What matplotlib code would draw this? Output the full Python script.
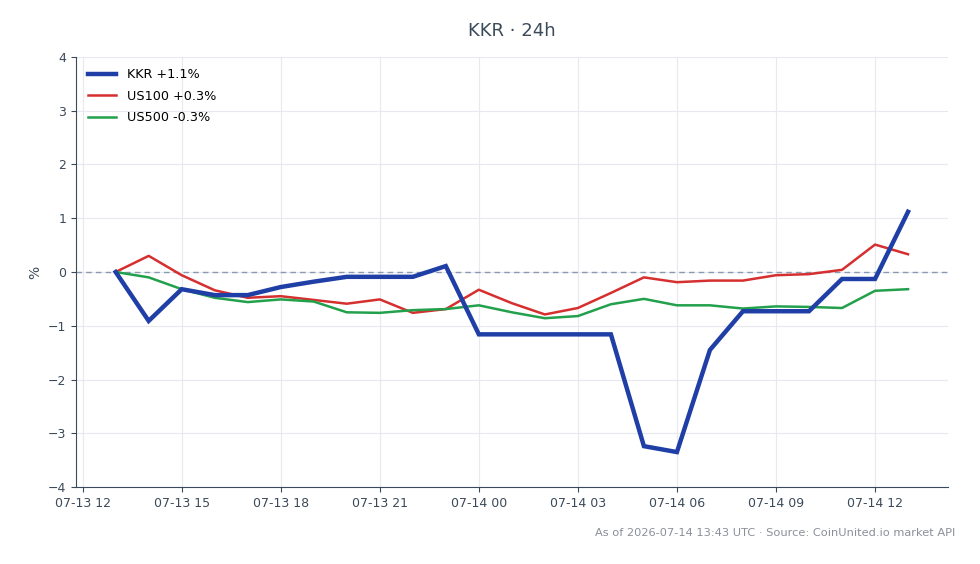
import matplotlib
matplotlib.use("Agg")
import matplotlib.pyplot as plt
import matplotlib.dates as mdates
import pandas as pd

times = pd.date_range("2026-07-13 13:00", "2026-07-14 13:00", freq="h")
kkr = [0.0, -0.91, -0.32, -0.43, -0.43, -0.28, -0.18, -0.09, -0.09, -0.09, 0.11,
       -1.16, -1.16, -1.16, -1.16, -1.16, -3.24, -3.35, -1.45, -0.73, -0.73, -0.73,
       -0.13, -0.13, 1.12]
us100 = [0.0, 0.30, -0.06, -0.34, -0.48, -0.45, -0.52, -0.59, -0.51, -0.76, -0.69,
         -0.33, -0.58, -0.79, -0.67, -0.39, -0.10, -0.19, -0.16, -0.16, -0.06, -0.04,
         0.04, 0.51, 0.33]
us500 = [0.0, -0.10, -0.32, -0.48, -0.56, -0.51, -0.55, -0.75, -0.76, -0.71, -0.69,
         -0.62, -0.75, -0.86, -0.82, -0.60, -0.50, -0.62, -0.62, -0.68, -0.64, -0.65,
         -0.67, -0.35, -0.32]
labels = ["KKR +1.1%", "US100 +0.3%", "US500 -0.3%"]
title = "KKR · 24h"
footer = "As of 2026-07-14 13:43 UTC · Source: CoinUnited.io market API"

txt = "#3b4a5a"
fig = plt.figure(figsize=(9.8, 5.64), dpi=100)
ax = fig.add_axes([0.0776, 0.1365, 0.8894, 0.7625])
ax.plot(times, kkr, color="#1f3fa6", lw=3.2, label=labels[0], zorder=4, solid_joinstyle="miter")
ax.plot(times, us100, color="#d62f2f", lw=1.8, label=labels[1], zorder=3)
ax.plot(times, us500, color="#22a04b", lw=1.8, label=labels[2], zorder=3)
ax.axhline(0, color="#8a99b0", lw=1, ls=(0, (4, 3)), zorder=2)

ax.set_ylim(-4, 4)
ax.set_yticks(range(-4, 5))
ax.xaxis.set_major_locator(mdates.HourLocator(byhour=range(0, 24, 3)))
ax.xaxis.set_major_formatter(mdates.DateFormatter("%m-%d %H"))
ax.grid(True, color="#e6e9ef", lw=0.8)
ax.set_axisbelow(True)
for s in ["top", "right"]:
    ax.spines[s].set_visible(False)
for s in ["left", "bottom"]:
    ax.spines[s].set_color("#3b4a5a")
ax.tick_params(colors=txt, labelsize=9)
ax.set_ylabel("%", color=txt, fontsize=10)
ax.set_title(title, color=txt, fontsize=13, pad=15)
leg = ax.legend(loc="upper left", frameon=False, fontsize=9.2, handlelength=2.2,
                handletextpad=0.9, labelspacing=0.65)
fig.text(0.975, 0.055, footer, ha="right", va="center", color="#8a8f99", fontsize=8.2)
fig.savefig("out.png", dpi=100)
